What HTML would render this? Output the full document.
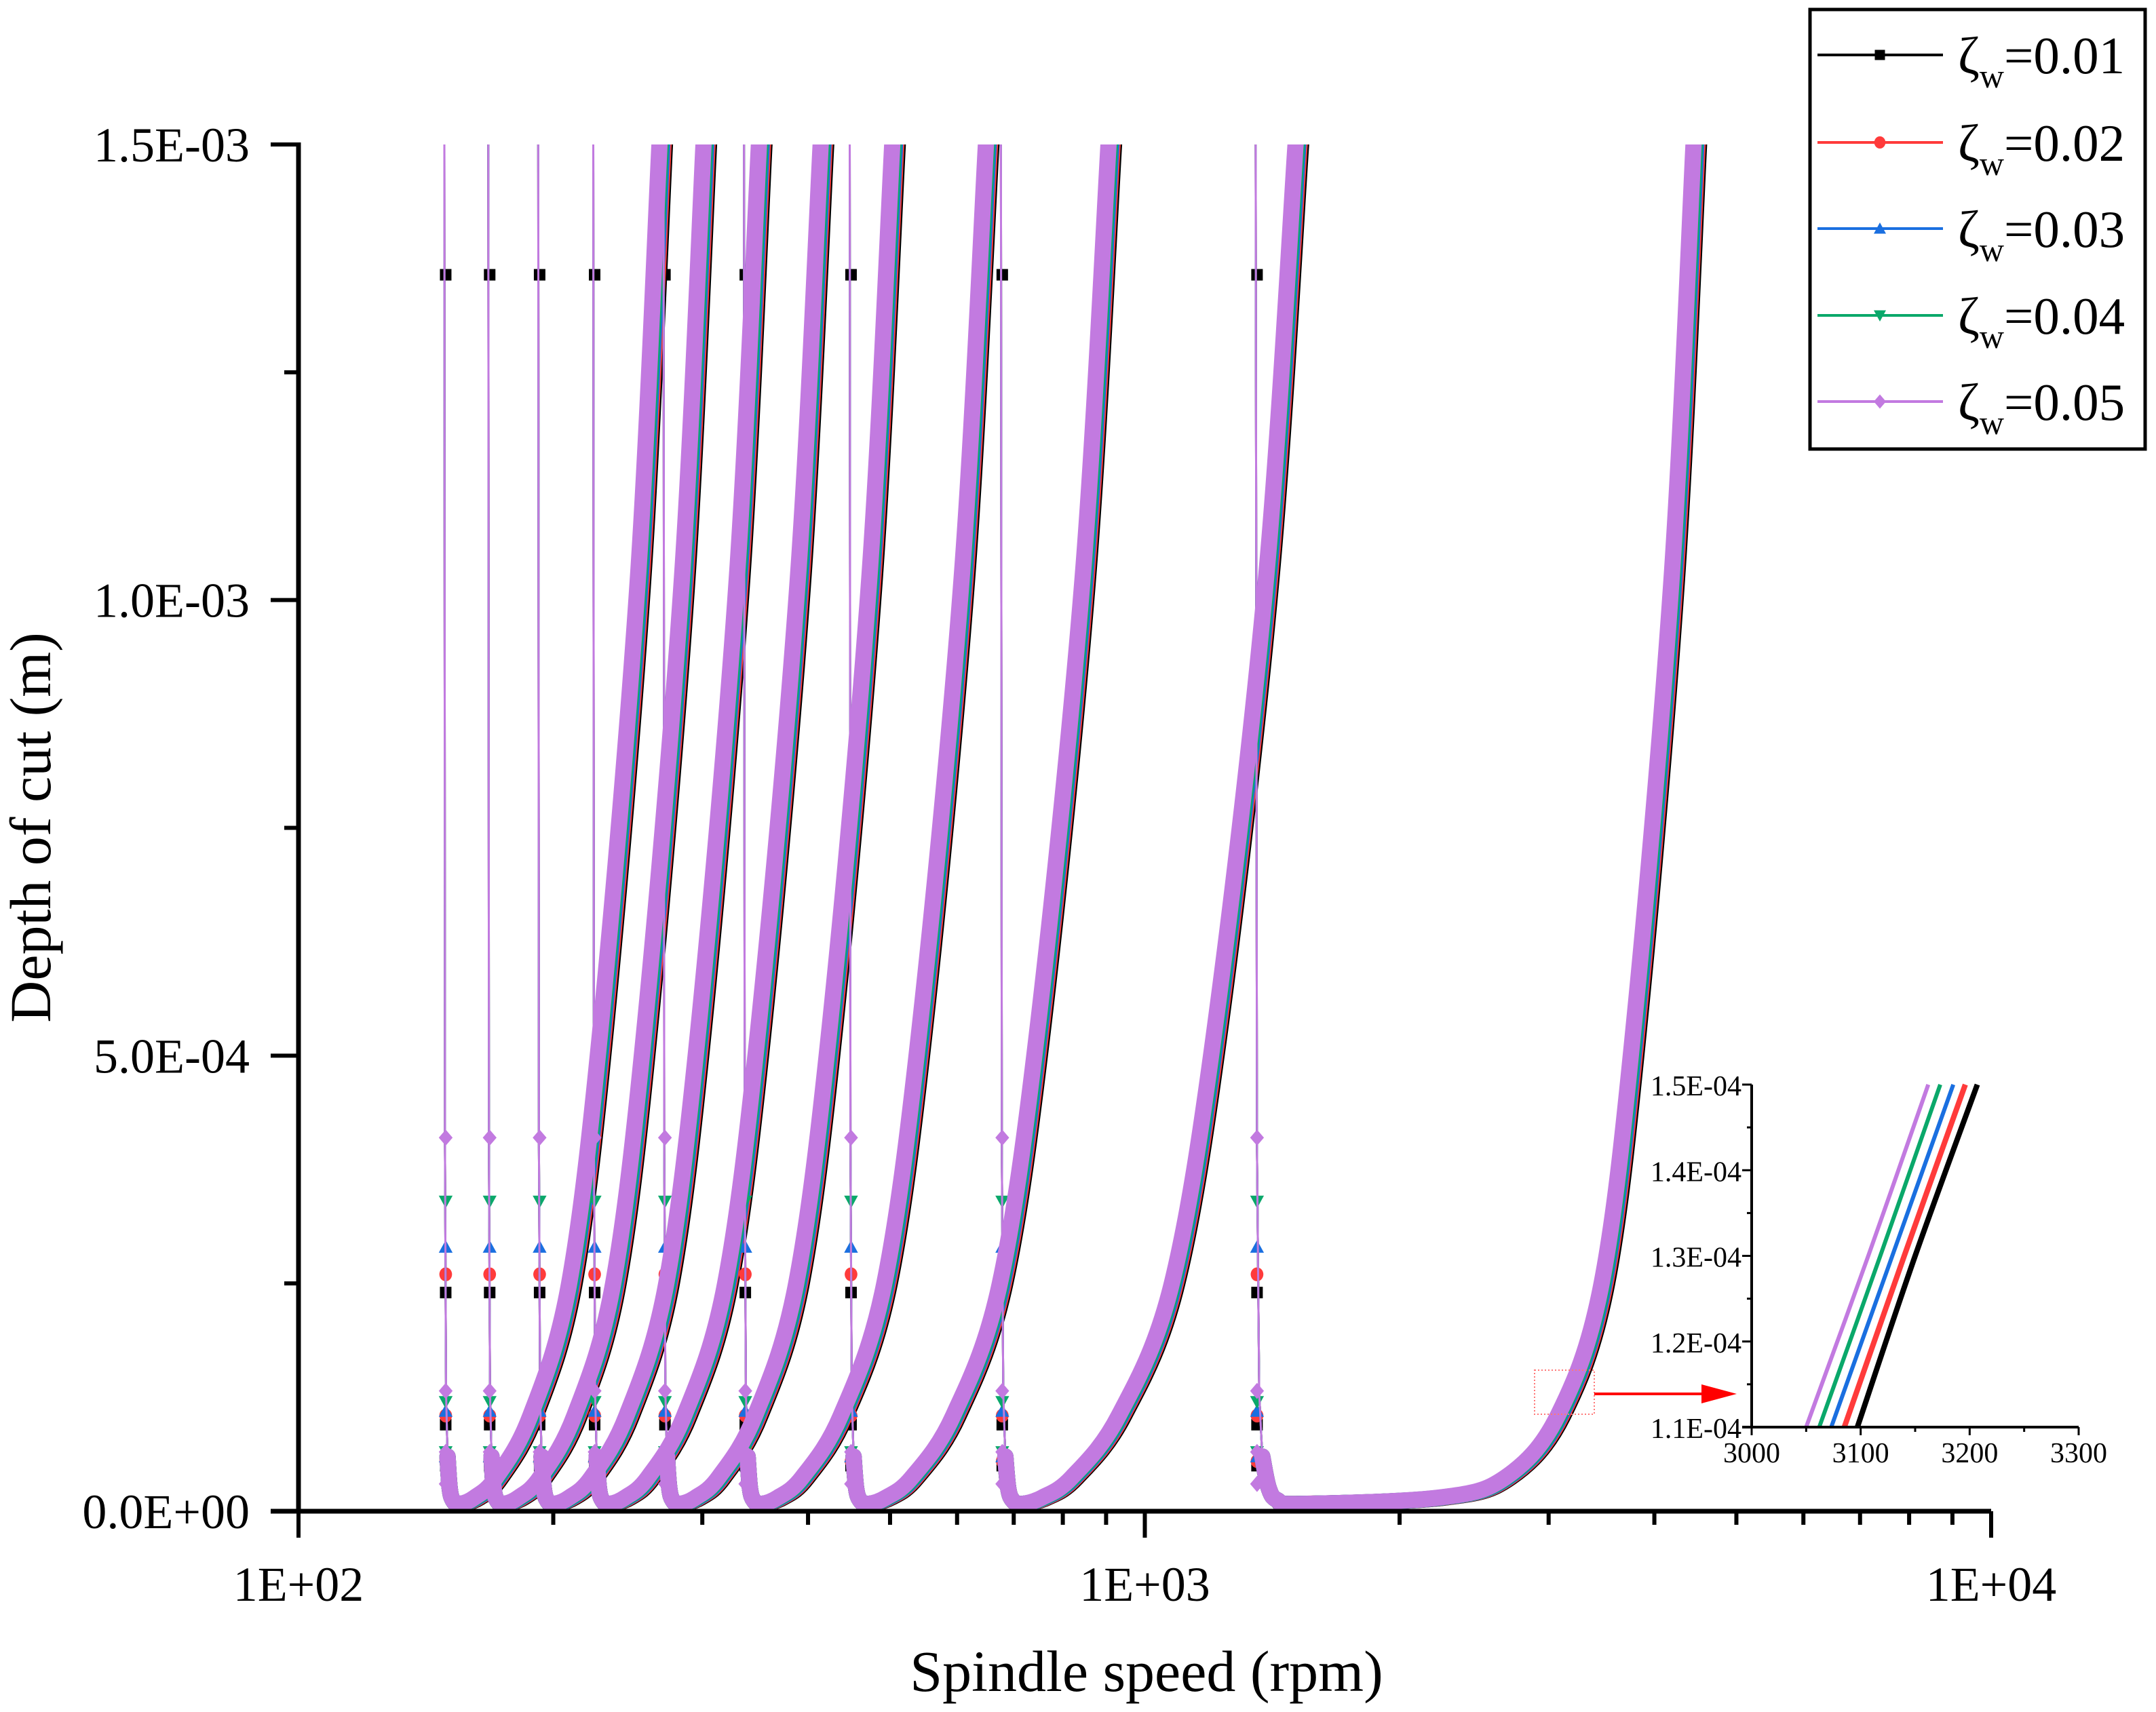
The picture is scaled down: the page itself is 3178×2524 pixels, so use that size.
<!DOCTYPE html>
<html><head><meta charset="utf-8"><style>
html,body{margin:0;padding:0;background:#fff;}
svg{display:block;font-family:"Liberation Serif","Times New Roman",serif;}
</style></head><body>
<svg id="chart" width="3178" height="2524" viewBox="0 0 3178 2524" xmlns="http://www.w3.org/2000/svg">
<defs><clipPath id="plotclip"><rect x="440" y="213" width="2495" height="2015"/></clipPath></defs>
<g id="series-layer" clip-path="url(#plotclip)"></g>
<g id="axes-layer"></g>
<g id="inset-layer"></g>
<g id="legend-layer"></g>
<text x="1690" y="2493" font-size="86" text-anchor="middle">Spindle speed (rpm)</text>
<text x="0" y="0" font-size="86" text-anchor="middle" transform="translate(74,1220) rotate(-90)">Depth of cut (m)</text>
</svg>
<script>
// ---- data ----
const seriesNames = ["ζw=0.01","ζw=0.02","ζw=0.03","ζw=0.04","ζw=0.05"];
const seriesDamping = ["0.01","0.02","0.03","0.04","0.05"];
const lobeStartRpm = [148.7,167.6,192,223,270,336,448,676,1352];
const lobeEndRpm = [267,301,350,414,503,649,906,1507,4450];
const lobeShape = [0,0,0,0,0,0,0,0,1];
const shapeDepth = [1.5e-3,4e-4,1.3e-4,6e-5,2.5e-5,1.2e-5,8e-6,1.5e-5,3.7e-5,1.05e-4,2.5e-4,5.4e-4,1.025e-3,1.5e-3];
const shapeFracA = [0,0.003,0.008,0.015,0.025,0.04,0.07,0.14,0.24,0.40,0.58,0.73,0.90,1];
const shapeFracB = [0,0.003,0.008,0.015,0.03,0.05,0.1,0.42,0.57,0.69,0.79,0.865,0.95,1];
const seriesShiftPct = [1.5,1.1,0.75,0.4,0];
const markerDepths = [
  [1.357e-3,2.4e-4,9.5e-5,5e-5],
  [2.6e-4,1.05e-4,5.5e-5],
  [2.9e-4,1.1e-4,6e-5],
  [3.4e-4,1.2e-4,6.5e-5],
  [4.1e-4,1.32e-4,6.5e-5,3e-5]
];
const yTickValues = [0,5e-4,1e-3,1.5e-3];
const yTickLabels = ["0.0E+00","5.0E-04","1.0E-03","1.5E-03"];
const xTickValues = [100,1000,10000];
const xTickLabels = ["1E+02","1E+03","1E+04"];
const insetDepths = [1.1e-4,1.3e-4,1.5e-4];
const insetRpm = [
  [3097,3150,3207],
  [3085,3140,3196],
  [3073,3129,3185],
  [3062,3118,3173],
  [3050,3107,3162]
];
const insetXTicks = [3000,3100,3200,3300];
const insetYTicks = [1.1e-4,1.2e-4,1.3e-4,1.4e-4,1.5e-4];
const insetYLabels = ["1.1E-04","1.2E-04","1.3E-04","1.4E-04","1.5E-04"];

// ---- styling ----
const colors = ["#000000","#ff3b3b","#1a6fe0","#0aa86a","#c27ae0"];
const NS = "http://www.w3.org/2000/svg";
function mk(tag, attrs, parent){const e=document.createElementNS(NS,tag);for(const k in attrs)e.setAttribute(k,attrs[k]);parent.appendChild(e);return e;}

const X0=440,X1=2935,Y0=2228,Y1=213;
function xs(n){return X0+(Math.log10(n)-2)/2*(X1-X0);}
function ys(d){return Y0-d/1.5e-3*(Y0-Y1);}

const sl=document.getElementById('series-layer');
function lobePts(li,si){
  const a=Math.log10(lobeStartRpm[li]), b=Math.log10(lobeEndRpm[li]);
  const fr=lobeShape[li]?shapeFracB:shapeFracA;
  const pts=[];
  for(let k=0;k<shapeDepth.length;k++){
    let n=Math.pow(10,a+(b-a)*fr[k]);
    if(k>=7) n=n*(1+seriesShiftPct[si]/100);
    pts.push([xs(n),ys(shapeDepth[k])]);
  }
  return pts;
}
function pathD(pts){return pts.map((p,i)=>(i?'L':'M')+p[0].toFixed(1)+' '+p[1].toFixed(1)).join(' ');}
function smoothD(pts){
  let d='M'+pts[0][0].toFixed(1)+' '+pts[0][1].toFixed(1);
  for(let i=0;i<pts.length-1;i++){
    const p0=pts[i-1]||pts[i],p1=pts[i],p2=pts[i+1],p3=pts[i+2]||pts[i+1];
    const c1=[p1[0]+(p2[0]-p0[0])/6,p1[1]+(p2[1]-p0[1])/6];
    const c2=[p2[0]-(p3[0]-p1[0])/6,p2[1]-(p3[1]-p1[1])/6];
    d+=` C${c1[0].toFixed(1)} ${c1[1].toFixed(1)} ${c2[0].toFixed(1)} ${c2[1].toFixed(1)} ${p2[0].toFixed(1)} ${p2[1].toFixed(1)}`;
  }
  return d;
}

function drawMarker(g,si,x,y,size){
  const c=colors[si];let m;
  if(si===0) m=mk('rect',{x:x-size/2,y:y-size/2,width:size,height:size,fill:c},g);
  else if(si===1) m=mk('ellipse',{cx:x,cy:y,rx:size*0.55,ry:size*0.6,fill:c},g);
  else if(si===2) m=mk('polygon',{points:`${x},${y-size*0.6} ${x-size*0.6},${y+size*0.5} ${x+size*0.6},${y+size*0.5}`,fill:c},g);
  else if(si===3) m=mk('polygon',{points:`${x},${y+size*0.6} ${x-size*0.6},${y-size*0.5} ${x+size*0.6},${y-size*0.5}`,fill:c},g);
  else m=mk('polygon',{points:`${x},${y-size*0.7} ${x+size*0.6},${y} ${x},${y+size*0.7} ${x-size*0.6},${y}`,fill:c},g);
  return m;
}

for(let si=0;si<seriesNames.length;si++){
  const g=mk('g',{},sl);
  
  
  for(let li=0;li<lobeStartRpm.length;li++){
    const pts=lobePts(li,si);
    const thick=mk('path',{d:smoothD(pts.slice(3)),fill:'none',stroke:colors[si],'stroke-width':24,'stroke-linejoin':'round','stroke-linecap':'round'},g);
    
    
    const thin=mk('path',{d:pathD(pts.slice(0,5)),fill:'none',stroke:colors[si],'stroke-width':3},g);
    
    
    const ax=xs(lobeStartRpm[li]);
    for(const d of markerDepths[si]){
      const m=drawMarker(g,si,ax+2,ys(d),17);
      
      
    }
  }
}

// axes
const al=document.getElementById('axes-layer');
mk('line',{x1:X0,y1:Y1-3,x2:X0,y2:Y0+3,stroke:'#000','stroke-width':7},al);
mk('line',{x1:X0-41,y1:Y0,x2:X1,y2:Y0,stroke:'#000','stroke-width':7},al);
for(let i=0;i<yTickValues.length;i++){
  const y=ys(yTickValues[i]);
  mk('line',{x1:X0-41,y1:y,x2:X0,y2:y,stroke:'#000','stroke-width':6},al);
  const t=mk('text',{x:368,y:y+25,'font-size':72,'text-anchor':'end'},al);t.textContent=yTickLabels[i];
  
  
  if(i<yTickValues.length-1){const ym=ys((yTickValues[i]+yTickValues[i+1])/2);mk('line',{x1:X0-21,y1:ym,x2:X0,y2:ym,stroke:'#000','stroke-width':6},al);}
}
for(let i=0;i<xTickValues.length;i++){
  const x=xs(xTickValues[i]);
  mk('line',{x1:x,y1:Y0,x2:x,y2:Y0+39,stroke:'#000','stroke-width':6},al);
  const t=mk('text',{x:x,y:2360,'font-size':72,'text-anchor':'middle'},al);t.textContent=xTickLabels[i];
  
  
  if(i<xTickValues.length-1){for(let k=2;k<=9;k++){const xm=xs(xTickValues[i]*k);mk('line',{x1:xm,y1:Y0,x2:xm,y2:Y0+20,stroke:'#000','stroke-width':6},al);}}
}

// inset
const il=document.getElementById('inset-layer');
const IX0=2582,IX1=3064,IY0=2104,IY1=1599;
function ixs(n){return IX0+(n-3000)/300*(IX1-IX0);}
function iys(d){return IY0-(d-1.1e-4)/4e-5*(IY0-IY1);}
mk('rect',{x:2262,y:2020,width:88,height:65,fill:'none',stroke:'#f77','stroke-width':2,'stroke-dasharray':'2,3'},il);
mk('line',{x1:2350,y1:2055,x2:2512,y2:2055,stroke:'#f00','stroke-width':4},il);
const arrow=mk('polygon',{points:'2508,2041 2560,2055 2508,2069',fill:'#f00'},il);


for(let si=0;si<insetRpm.length;si++){
  const pts=insetRpm[si].map((n,k)=>[ixs(n),iys(insetDepths[k])]);
  const p=mk('path',{d:smoothD(pts),fill:'none',stroke:colors[si],'stroke-width':si<2?8:6},il);
  
  
}
mk('line',{x1:IX0,y1:IY1,x2:IX0,y2:IY0+2,stroke:'#000','stroke-width':4},il);
mk('line',{x1:IX0-14,y1:IY0,x2:IX1,y2:IY0,stroke:'#000','stroke-width':4},il);
for(let i=0;i<insetYTicks.length;i++){
  const y=iys(insetYTicks[i]);
  mk('line',{x1:IX0-14,y1:y,x2:IX0,y2:y,stroke:'#000','stroke-width':3},il);
  if(i<insetYTicks.length-1){const ym=iys(insetYTicks[i]+5e-6);mk('line',{x1:IX0-7,y1:ym,x2:IX0,y2:ym,stroke:'#000','stroke-width':3},il);}
  const t=mk('text',{x:2567,y:y+16,'font-size':42,'text-anchor':'end'},il);t.textContent=insetYLabels[i];
  
  
}
for(let i=0;i<insetXTicks.length;i++){
  const x=ixs(insetXTicks[i]);
  mk('line',{x1:x,y1:IY0,x2:x,y2:IY0+12,stroke:'#000','stroke-width':3},il);
  if(i<insetXTicks.length-1){const xm=ixs(insetXTicks[i]+50);mk('line',{x1:xm,y1:IY0,x2:xm,y2:IY0+7,stroke:'#000','stroke-width':3},il);}
  const t=mk('text',{x:x,y:2156,'font-size':42,'text-anchor':'middle'},il);t.textContent=String(insetXTicks[i]);
  
  
}

// legend
const lg=document.getElementById('legend-layer');
mk('rect',{x:2668,y:14,width:494,height:648,fill:'#fff',stroke:'#000','stroke-width':5},lg);
const legendY=[81,210,337,465,592];
for(let si=0;si<seriesNames.length;si++){
  const g=mk('g',{},lg);
  
  
  const y=legendY[si];
  mk('line',{x1:2679,y1:y,x2:2864,y2:y,stroke:colors[si],'stroke-width':4},g);
  drawMarker(g,si,2771,y,15);
  const t=mk('text',{x:2886,y:y+27,'font-size':77},g);
  const z=document.createElementNS(NS,'tspan');z.textContent='ζ';t.appendChild(z);
  const w=document.createElementNS(NS,'tspan');w.setAttribute('font-size','50');w.setAttribute('dy','21');w.textContent='w';t.appendChild(w);
  const v=document.createElementNS(NS,'tspan');v.setAttribute('dy','-21');v.textContent='=0.0'+(si+1);t.appendChild(v);
}
</script>
</body></html>
